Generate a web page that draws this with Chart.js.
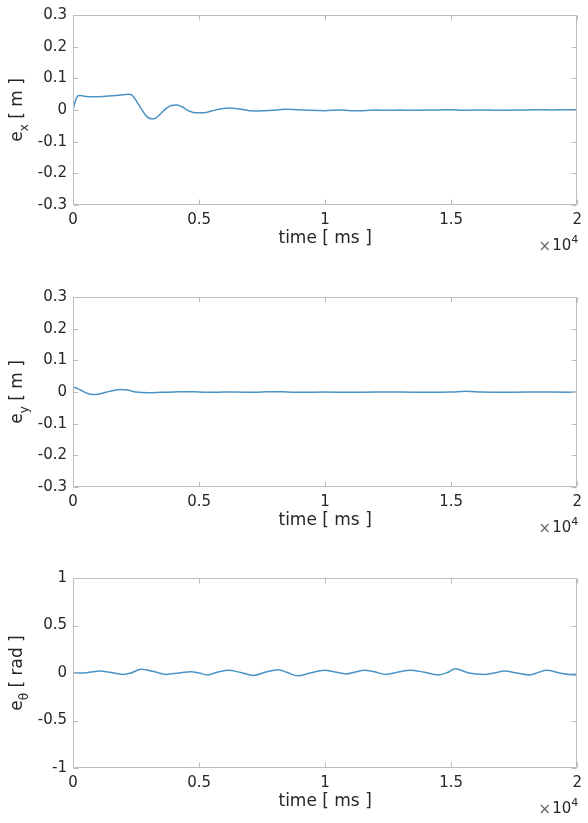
<!DOCTYPE html>
<html>
<head>
<meta charset="utf-8">
<script src="https://cdn.jsdelivr.net/npm/chart.js@4.4.1/dist/chart.umd.min.js"></script>
<style>
  html, body { margin: 0; padding: 0; background: #ffffff; }
  body { width: 588px; height: 823px; position: relative; overflow: hidden; }
  .box { position: absolute; left: 0; width: 588px; height: 260px; }
</style>
</head>
<body>
<div class="box" style="top:0px"><canvas id="c1"></canvas></div>
<div class="box" style="top:282px"><canvas id="c2"></canvas></div>
<div class="box" style="top:563px"><canvas id="c3"></canvas></div>
<script>
// ---------- data ----------
const xTickValues = [0, 5000, 10000, 15000, 20000];
const xTickLabels = ['0', '0.5', '1', '1.5', '2'];

const yTicksM = [-0.3, -0.2, -0.1, 0, 0.1, 0.2, 0.3];
const yTickLabelsM = ['-0.3', '-0.2', '-0.1', '0', '0.1', '0.2', '0.3'];
const yTicksRad = [-1, -0.5, 0, 0.5, 1];
const yTickLabelsRad = ['-1', '-0.5', '0', '0.5', '1'];

// e_x [m] vs time [ms]
const exTime = [0, 80, 200, 300, 500, 800, 1200, 1600, 2000, 2200, 2350, 2500, 2700, 2900, 3100, 3250,
  3450, 3700, 3900, 4100, 4300, 4600, 4900, 5200, 5500, 5900, 6200, 6600, 7000, 7400, 7900, 8400,
  8900, 9400, 10000, 10600, 11000, 11500, 12000, 12500, 13000, 13500, 14000, 14500, 15000, 15500,
  16000, 16500, 17000, 17500, 18000, 18500, 19000, 19500, 20000];
const exValue = [0, 0.025, 0.045, 0.046, 0.043, 0.042, 0.043, 0.045, 0.048, 0.050, 0.046, 0.030, 0.005, -0.018, -0.028, -0.027,
  -0.014, 0.005, 0.014, 0.016, 0.011, -0.003, -0.009, -0.009, -0.003, 0.004, 0.006, 0.003, -0.002, -0.003, -0.001, 0.002,
  0.001, -0.001, -0.002, 0.000, -0.002, -0.002, 0.000, -0.001, 0.000, -0.001, 0.000, 0.000, 0.001, -0.001,
  0.000, 0.000, -0.001, 0.000, 0.000, 0.001, 0.000, 0.001, 0.001];

// e_y [m] vs time [ms]
const eyTime = [0, 150, 350, 550, 800, 1000, 1300, 1600, 1900, 2150, 2500, 3000, 3500, 4000, 4500, 5000,
  5500, 6000, 6500, 7000, 7500, 8000, 8500, 9000, 10000, 11000, 12000, 13000, 14000, 15000, 15600,
  16200, 17000, 18000, 19000, 20000];
const eyValue = [0.015, 0.012, 0.004, -0.004, -0.008, -0.007, -0.001, 0.005, 0.008, 0.006, 0.000, -0.002, -0.001, 0.000, 0.001, 0.000,
  -0.001, 0.000, 0.000, -0.001, 0.000, 0.001, 0.000, -0.001, 0.000, -0.001, 0.000, 0.000, -0.001, 0.000, 0.002,
  0.000, -0.001, 0.000, 0.000, -0.001];

// e_theta [rad] vs time [ms]
const ethTime = [0, 400, 700, 1060, 1500, 1980, 2300, 2700, 3200, 3690, 4200, 4670, 5000, 5330, 5750, 6160,
  6650, 7170, 7650, 8150, 8500, 8910, 9400, 9960, 10400, 10820, 11200, 11540, 12000, 12400, 12900, 13380,
  13900, 14500, 14850, 15160, 15700, 16340, 16700, 17130, 17600, 18120, 18450, 18780, 19300, 19900, 20000];
const ethValue = [0, 0.000, 0.010, 0.020, 0.005, -0.015, 0.000, 0.040, 0.015, -0.015, 0.000, 0.012, 0.000, -0.020, 0.010, 0.030,
  0.005, -0.025, 0.010, 0.035, 0.005, -0.030, 0.000, 0.030, 0.010, -0.010, 0.010, 0.030, 0.010, -0.015, 0.010, 0.030,
  0.010, -0.020, 0.005, 0.045, 0.000, -0.015, 0.000, 0.020, 0.000, -0.020, 0.005, 0.028, 0.000, -0.020, -0.018];

// ---------- styling ----------
const FONT = "'DejaVu Sans', 'Liberation Sans', Arial, sans-serif";
const TEXT = '#262626';
const BOX = '#bdbdbd';
const LINE = '#4a93c4';
const TICK_LEN = 5;

const boxPlugin = {
  id: 'matlabBox',
  afterDatasetsDraw(chart, args, opts) {
    const { ctx, chartArea: a, scales: { x, y } } = chart;
    ctx.save();
    ctx.strokeStyle = BOX;
    ctx.lineWidth = 1;
    ctx.beginPath();
    const L = Math.round(a.left) + 0.5, R = Math.round(a.right) - 0.5;
    const T = Math.round(a.top) + 0.5, B = Math.round(a.bottom) - 0.5;
    ctx.rect(L, T, R - L, B - T);
    x.ticks.forEach(t => {
      const px = Math.round(x.getPixelForValue(t.value)) + 0.5;
      ctx.moveTo(px, B); ctx.lineTo(px, B - TICK_LEN);
      ctx.moveTo(px, T); ctx.lineTo(px, T + TICK_LEN);
    });
    y.ticks.forEach(t => {
      const py = Math.round(y.getPixelForValue(t.value)) + 0.5;
      ctx.moveTo(L, py); ctx.lineTo(L + TICK_LEN, py);
      ctx.moveTo(R, py); ctx.lineTo(R - TICK_LEN, py);
    });
    ctx.stroke();

    // y axis title with subscript
    const yc = (a.top + a.bottom) / 2;
    const mainFont = `17px ${FONT}`;
    const subFont = `12px ${FONT}`;
    ctx.fillStyle = TEXT;
    ctx.translate(18, yc);
    ctx.rotate(-Math.PI / 2);
    ctx.textBaseline = 'middle';
    ctx.textAlign = 'left';
    ctx.font = mainFont;
    const wE = ctx.measureText('e').width;
    const rest = ' ' + opts.unit;
    const wR = ctx.measureText(rest).width;
    ctx.font = subFont;
    const wS = ctx.measureText(opts.sub).width;
    const total = wE + wS + wR;
    let cx = -total / 2;
    ctx.font = mainFont;
    ctx.fillText('e', cx, 0); cx += wE;
    ctx.font = subFont;
    ctx.fillText(opts.sub, cx, 7); cx += wS;
    ctx.font = mainFont;
    ctx.fillText(rest, cx, 0);
    ctx.restore();

    // x10^4 exponent label
    ctx.save();
    ctx.fillStyle = TEXT;
    ctx.textBaseline = 'middle';
    ctx.textAlign = 'right';
    const ey = a.bottom + 41;
    ctx.font = `11px ${FONT}`;
    const w4 = ctx.measureText('4').width;
    ctx.fillText('4', a.right + 1, ey - 6);
    ctx.font = `15px ${FONT}`;
    ctx.fillText('10', a.right + 1 - w4, ey);
    const w10 = ctx.measureText('10').width;
    ctx.fillStyle = '#6a6a6a';
    ctx.fillText('\u00d7', a.right + 1 - w4 - w10 - 1, ey + 1);
    ctx.restore();
  }
};

function makeChart(id, times, values, yTicks, yLabels, sub, unit) {
  const pts = times.map((t, i) => ({ x: t, y: values[i] }));
  return new Chart(document.getElementById(id), {
    type: 'line',
    data: {
      datasets: [{
        data: pts,
        borderColor: LINE,
        borderWidth: 1.5,
        pointRadius: 0,
        fill: false,
        cubicInterpolationMode: 'monotone'
      }]
    },
    options: {
      responsive: true,
      maintainAspectRatio: false,
      animation: false,
      events: [],
      layout: { padding: { top: 15, right: 5, left: 0, bottom: 0 } },
      plugins: {
        legend: { display: false },
        tooltip: { enabled: false },
        matlabBox: { sub: sub, unit: unit }
      },
      scales: {
        x: {
          type: 'linear',
          min: 0, max: 20000,
          grid: { display: false, drawTicks: false },
          border: { display: false },
          afterBuildTicks: s => { s.ticks = xTickValues.map(v => ({ value: v })); },
          afterFit: s => { s.height = 55; },
          ticks: {
            autoSkip: false, maxRotation: 0, padding: 6,
            color: TEXT, font: { family: FONT, size: 15 },
            callback: (v, i) => xTickLabels[i]
          },
          title: {
            display: true, text: 'time [ ms ]', color: TEXT,
            font: { family: FONT, size: 17 },
            padding: { top: 0, bottom: 11 }
          }
        },
        y: {
          type: 'linear',
          min: yTicks[0], max: yTicks[yTicks.length - 1],
          grid: { display: false, drawTicks: false },
          border: { display: false },
          afterBuildTicks: s => { s.ticks = yTicks.map(v => ({ value: v })); },
          afterFit: s => { s.width = 73; },
          ticks: {
            autoSkip: false, padding: 6,
            color: TEXT, font: { family: FONT, size: 15 },
            callback: (v, i) => yLabels[i]
          }
        }
      }
    },
    plugins: [boxPlugin]
  });
}

makeChart('c1', exTime, exValue, yTicksM, yTickLabelsM, 'x', '[ m ]');
makeChart('c2', eyTime, eyValue, yTicksM, yTickLabelsM, 'y', '[ m ]');
makeChart('c3', ethTime, ethValue, yTicksRad, yTickLabelsRad, '\u03b8', '[ rad ]');
</script>
</body>
</html>
